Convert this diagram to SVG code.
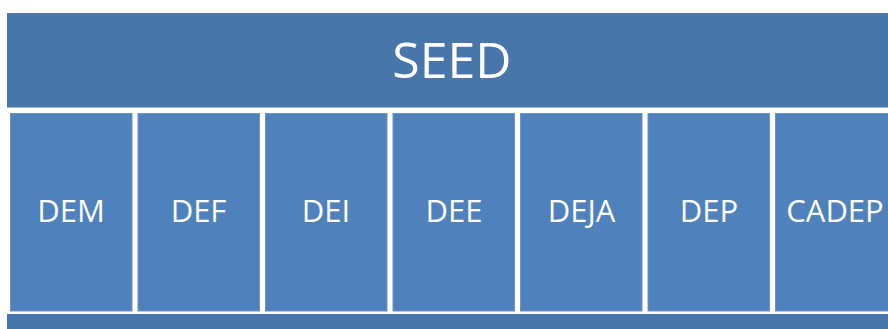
<svg xmlns="http://www.w3.org/2000/svg" width="888" height="329" viewBox="0 0 888 329">
<style>
.bar{fill:#4876AB;}
.col{fill:#4F81BD;stroke:#6A94C8;stroke-width:1;}
.t{fill:#FFFFFF;font-family:"Open Sans","Noto Sans",sans-serif;text-anchor:middle;}
.big{font-size:50px;}
.sm{font-size:31px;}
</style>
<rect width="888" height="329" fill="#FFFFFF"/>
<g id="seed">
<rect class="bar" x="7" y="13" width="881" height="94.5"/>
<text class="t big" x="452" y="78">SEED</text>
</g>
<g id="dem">
<rect class="col" x="10.5" y="113.5" width="121.5" height="197.5"/>
<text class="t sm" x="71" y="222">DEM</text>
</g>
<g id="def">
<rect class="col" x="138" y="113.5" width="121.5" height="197.5"/>
<text class="t sm" x="198.5" y="222">DEF</text>
</g>
<g id="dei">
<rect class="col" x="265.5" y="113.5" width="121.5" height="197.5"/>
<text class="t sm" x="326" y="222">DEI</text>
</g>
<g id="dee">
<rect class="col" x="393" y="113.5" width="121.5" height="197.5"/>
<text class="t sm" x="454" y="222">DEE</text>
</g>
<g id="deja">
<rect class="col" x="520.5" y="113.5" width="121.5" height="197.5"/>
<text class="t sm" x="581.5" y="222">DEJA</text>
</g>
<g id="dep">
<rect class="col" x="648" y="113.5" width="121.5" height="197.5"/>
<text class="t sm" x="709" y="222">DEP</text>
</g>
<g id="cadep">
<rect class="col" x="775.5" y="113.5" width="121.5" height="197.5"/>
<text class="t sm" x="835" y="222">CADEP</text>
</g>
<g id="base">
<rect class="bar" x="7" y="314" width="881" height="15"/>
</g>
<g id="connectors"></g>
</svg>
